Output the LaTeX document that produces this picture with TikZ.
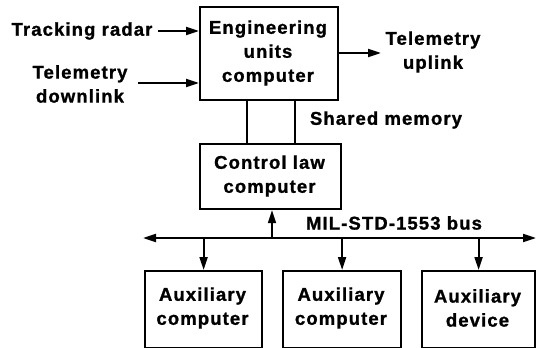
\documentclass[tikz,border=0pt]{standalone}
\usepackage{fontspec}
\setmainfont{Liberation Sans}[LetterSpace=6, BoldFeatures={FakeBold=1.2}]
\usetikzlibrary{arrows.meta}
\begin{document}
\begin{tikzpicture}[x=1pt,y=-1pt,
  every node/.style={font=\bfseries\fontsize{18.5}{24}\selectfont, inner sep=0pt, align=center},
  blk/.style={draw, line width=2.2pt, anchor=north west},
  conn/.style={line width=2pt},
  arr/.style={conn, -{Triangle[length=13pt,width=8pt]}},
  darr/.style={conn, {Triangle[length=13pt,width=8pt]}-{Triangle[length=13pt,width=8pt]}}]
\useasboundingbox (0,0) rectangle (536,348);
% boxes
\node[blk, minimum width=138pt, minimum height=93pt] (eu) at (199,6) {};
\node at (268,53) {Engineering\\units\\computer};
\node[blk, minimum width=141pt, minimum height=65pt] (cl) at (199,143) {};
\node at (269.5,176) {Control law\\computer};
\node[blk, minimum width=117pt, minimum height=77pt] (a1) at (144,270) {};
\node at (202.5,308) {Auxiliary\\computer};
\node[blk, minimum width=118pt, minimum height=77pt] (a2) at (282,270) {};
\node at (341,308) {Auxiliary\\computer};
\node[blk, minimum width=113pt, minimum height=77pt] (a3) at (421,270) {};
\node at (477.5,308) {Auxiliary\\device};
% labels
\node (tr) at (82,31) {Tracking radar};
\node (td) at (80,84) {Telemetry\\downlink};
\node (tu) at (433,52) {Telemetry\\uplink};
\node (sm) at (386,120) {Shared memory};
\node (bus) at (394,223) {MIL-STD-1553 bus};
% connectors
\coordinate (trA) at (158,31);
\coordinate (tdA) at (138,83);
\coordinate (tuB) at (381,53);
\draw[arr] (trA) -- (trA -| eu.west);
\draw[arr] (tdA) -- (tdA -| eu.west);
\draw[arr] (eu.east |- tuB) -- (tuB);
\coordinate (s1) at (247,99);
\coordinate (s2) at (295,99);
\draw[conn] (s1) -- (s1 |- cl.north);
\draw[conn] (s2) -- (s2 |- cl.north);
\coordinate (bl) at (143,238);
\coordinate (br) at (536,238);
\draw[darr] (bl) -- (br);
\coordinate (up) at (272,238);
\draw[arr] (up) -- (up |- cl.south);
\draw[arr] (a1.north |- bl) -- (a1.north);
\draw[arr] (a2.north |- bl) -- (a2.north);
\draw[arr] (a3.north |- bl) -- (a3.north);
\end{tikzpicture}
\end{document}
